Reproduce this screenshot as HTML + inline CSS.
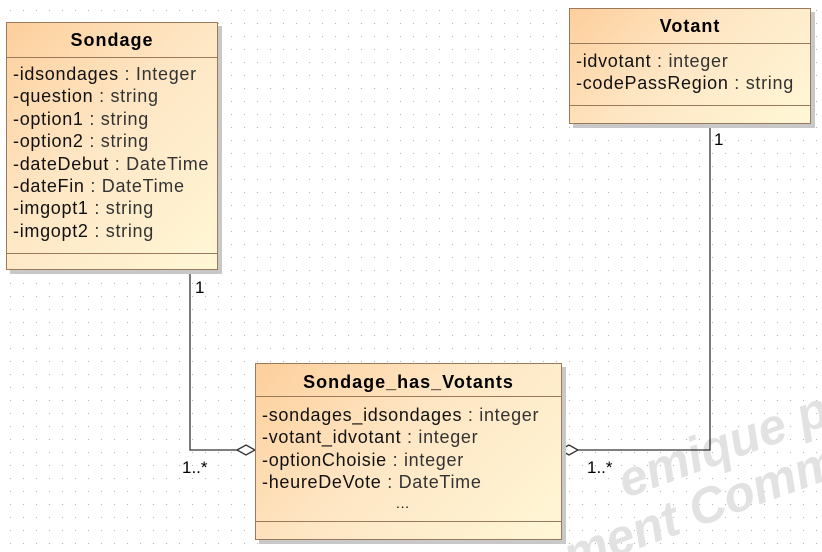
<!DOCTYPE html>
<html style="overflow:hidden;width:822px;height:552px"><head><meta charset="utf-8"><style>
body{margin:0;width:822px;height:552px;overflow:hidden;background:#fff;font-family:"Liberation Sans",Arial,sans-serif;position:relative}
.grid{position:absolute;left:0;top:0;width:822px;height:552px;background-image:radial-gradient(circle,#b8b8b8 0.7px,transparent 0.8px);background-size:13px 13px;background-position:4px 4px}
.box{position:absolute;border:1px solid #9a7a5a;background:linear-gradient(135deg,#fdcf9c 0%,#fee6c4 45%,#fff7d6 100%);box-shadow:4px 4px 0 #c8c8c8}
.t{position:absolute;left:0;right:0;text-align:center;font-weight:bold;font-size:18px;letter-spacing:1px;color:#000;border-bottom:1px solid #9a7a5a}
.a{position:absolute;left:6px;font-size:18px;letter-spacing:0.7px;line-height:22.4px;color:#111;white-space:nowrap}
.a span{color:#333}
.s{position:absolute;left:0;right:0;border-top:1px solid #9a7a5a}
.lbl{position:absolute;font-size:17px;color:#000}
.wm{position:absolute;color:#e2e2e2;font-size:50px;font-weight:bold;transform:rotate(-20deg);transform-origin:left top;white-space:nowrap;font-style:italic}
.clip{position:absolute;left:0;top:0;width:822px;height:552px;overflow:hidden}
</style></head><body>
<div class="grid"></div>
<div class="clip">
<div class="wm" style="left:610px;top:455px">emique pour F</div>
<div class="wm" style="left:555px;top:530px">ment Comme</div>
</div>
<svg style="position:absolute;left:0;top:0" width="822" height="552">
<polyline points="190,268 190,450 237,450" fill="none" stroke="#333" stroke-width="1.3"/>
<polygon points="237,450 246,445 255,450 246,455" fill="#fff" stroke="#333" stroke-width="1.3"/>
<polyline points="710,122 710,450 578,450" fill="none" stroke="#333" stroke-width="1.3"/>
<polygon points="560,450 569,445 578,450 569,455" fill="#fff" stroke="#333" stroke-width="1.3"/>
</svg>
<div class="box" style="left:6px;top:22px;width:210px;height:246px">
<div class="t" style="top:0;height:34px;line-height:34px">Sondage</div>
<div class="a" style="top:40px">-idsondages <span>: Integer</span><br>-question <span>: string</span><br>-option1 <span>: string</span><br>-option2 <span>: string</span><br>-dateDebut <span>: DateTime</span><br>-dateFin <span>: DateTime</span><br>-imgopt1 <span>: string</span><br>-imgopt2 <span>: string</span></div>
<div class="s" style="top:230px"></div>
</div>
<div class="box" style="left:569px;top:8px;width:240px;height:114px">
<div class="t" style="top:0;height:34px;line-height:34px">Votant</div>
<div class="a" style="top:41px">-idvotant <span>: integer</span><br>-codePassRegion <span>: string</span></div>
<div class="s" style="top:96px"></div>
</div>
<div class="box" style="left:255px;top:363px;width:305px;height:175px">
<div class="t" style="top:0;height:32px;line-height:36px">Sondage_has_Votants</div>
<div class="a" style="top:40px">-sondages_idsondages <span>: integer</span><br>-votant_idvotant <span>: integer</span><br>-optionChoisie <span>: integer</span><br>-heureDeVote <span>: DateTime</span></div>
<div class="a" style="top:128px;left:140px;font-size:14px">...</div>
<div class="s" style="top:157px"></div>
</div>
<div class="lbl" style="left:195px;top:278px">1</div>
<div class="lbl" style="left:714px;top:130px">1</div>
<div class="lbl" style="left:182px;top:458px">1..*</div>
<div class="lbl" style="left:587px;top:458px">1..*</div>
</body></html>
